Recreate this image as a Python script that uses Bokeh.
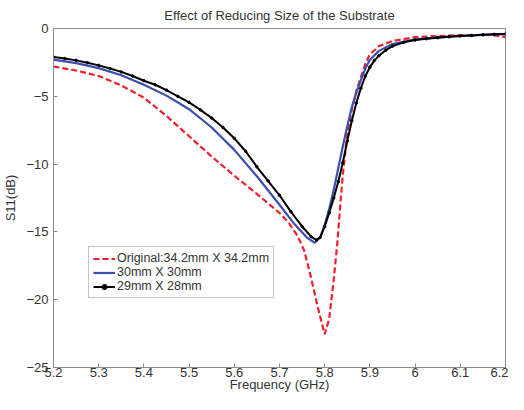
from bokeh.plotting import figure
from bokeh.models import Legend, LegendItem, FixedTicker, Range1d
from bokeh.embed import file_html
from bokeh.resources import INLINE

# ---- data ----
f_orig = [5.200, 5.250, 5.300, 5.350, 5.400, 5.450, 5.500, 5.550, 5.600, 5.650,
          5.700, 5.720, 5.740, 5.755, 5.770, 5.785, 5.800, 5.810, 5.820, 5.828,
          5.835, 5.840, 5.850, 5.860, 5.870, 5.880, 5.890, 5.900, 5.920, 5.950,
          6.000, 6.050, 6.100, 6.150, 6.180, 6.200]
s_orig = [-2.80, -3.10, -3.50, -4.20, -5.10, -6.45, -7.95, -9.45, -10.85, -12.20,
          -13.60, -14.30, -15.30, -16.40, -18.40, -20.60, -22.55, -21.40, -18.50, -15.80,
          -12.80, -10.80, -7.70, -6.00, -4.60, -3.60, -2.60, -1.90, -1.30, -0.92,
          -0.64, -0.55, -0.50, -0.47, -0.52, -0.64]

f_30 = [5.200, 5.250, 5.300, 5.350, 5.400, 5.450, 5.500, 5.550, 5.600, 5.650,
        5.700, 5.730, 5.760, 5.778, 5.790, 5.800, 5.810, 5.820, 5.830, 5.840,
        5.850, 5.860, 5.870, 5.880, 5.890, 5.900, 5.920, 5.950, 6.000, 6.050,
        6.100, 6.150, 6.200]
s_30 = [-2.30, -2.55, -2.92, -3.45, -4.15, -4.95, -5.95, -7.30, -8.95, -10.90,
        -13.00, -14.30, -15.40, -15.80, -15.40, -14.50, -13.30, -11.90, -10.30, -8.70,
        -7.20, -5.80, -4.75, -3.80, -2.95, -2.30, -1.65, -1.15, -0.80, -0.65,
        -0.55, -0.47, -0.41]

f_29 = [5.200, 5.225, 5.250, 5.275, 5.300, 5.325, 5.350, 5.375, 5.400, 5.425,
        5.450, 5.475, 5.500, 5.525, 5.550, 5.575, 5.600, 5.625, 5.650, 5.675,
        5.700, 5.725, 5.750, 5.770, 5.782, 5.790, 5.800, 5.810, 5.820, 5.830,
        5.840, 5.850, 5.860, 5.870, 5.880, 5.890, 5.900, 5.910, 5.920, 5.935,
        5.950, 5.975, 6.000, 6.025, 6.050, 6.075, 6.100, 6.125, 6.150, 6.175,
        6.200]
s_29 = [-2.10, -2.22, -2.35, -2.52, -2.72, -2.95, -3.20, -3.50, -3.85, -4.15,
        -4.55, -5.00, -5.45, -6.00, -6.60, -7.30, -8.10, -9.05, -10.20, -11.25,
        -12.30, -13.50, -14.60, -15.35, -15.60, -15.40, -14.60, -13.60, -12.50, -11.30,
        -9.90, -8.30, -6.80, -5.50, -4.40, -3.50, -2.85, -2.35, -2.00, -1.60,
        -1.30, -1.02, -0.85, -0.75, -0.68, -0.61, -0.55, -0.51, -0.47, -0.43,
        -0.40]

x_ticks = [5.2, 5.3, 5.4, 5.5, 5.6, 5.7, 5.8, 5.9, 6.0, 6.1, 6.2]
x_tick_labels = ["5.2", "5.3", "5.4", "5.5", "5.6", "5.7", "5.8", "5.9", "6", "6.1", "6.2"]
y_ticks = [-25, -20, -15, -10, -5, 0]

label_orig = "Original:34.2mm X 34.2mm"
label_30 = "30mm X 30mm"
label_29 = "29mm X 28mm"

FONT = "Liberation Sans"
AXC = "#8a8a8a"
TXT = "#333333"

p = figure(width=508, height=394, output_backend="svg", toolbar_location=None,
           x_range=Range1d(5.2, 6.2), y_range=Range1d(-25, 0),
           title="Effect of Reducing Size of the Substrate",
           min_border_left=41, min_border_right=3, min_border_top=0, min_border_bottom=0)

p.title.align = "center"
p.title.text_font = FONT
p.title.text_font_size = "13px"
p.title.text_font_style = "normal"
p.title.text_color = TXT
p.title.standoff = 11

p.grid.visible = False
p.outline_line_color = AXC
p.outline_line_width = 1
p.background_fill_color = "white"
p.border_fill_color = "white"

for ax in (p.xaxis[0], p.yaxis[0]):
    ax.axis_line_color = AXC
    ax.major_tick_line_color = AXC
    ax.major_tick_in = 4
    ax.major_tick_out = 0
    ax.minor_tick_line_color = None
    ax.major_label_text_font = FONT
    ax.major_label_text_font_size = "13px"
    ax.major_label_text_color = TXT
    ax.axis_label_text_font = FONT
    ax.axis_label_text_font_size = "13px"
    ax.axis_label_text_font_style = "normal"
    ax.axis_label_text_color = TXT

p.xaxis.ticker = FixedTicker(ticks=x_ticks)
p.xaxis.major_label_overrides = {t: l for t, l in zip(x_ticks, x_tick_labels)}
p.xaxis.axis_label = "Frequency (GHz)"
p.xaxis.major_label_standoff = 0
p.xaxis.axis_label_standoff = -3

p.yaxis.ticker = FixedTicker(ticks=y_ticks)
p.yaxis.axis_label = "S11(dB)"
p.yaxis.major_label_standoff = 5
p.yaxis.axis_label_standoff = 5

r_orig = p.line(f_orig, s_orig, line_color="#f0202a", line_width=2.2, line_dash="6 3")
r_30 = p.line(f_30, s_30, line_color="#3b4fb0", line_width=2.2)
r_29 = p.line(f_29, s_29, line_color="black", line_width=2)
r_29m = p.scatter(f_29, s_29, marker="circle", size=2.5, fill_color="black", line_color="black")

legend = Legend(items=[
    LegendItem(label=label_orig, renderers=[r_orig]),
    LegendItem(label=label_30, renderers=[r_30]),
    LegendItem(label=label_29, renderers=[r_29, r_29m]),
], location=(35, 69))
legend.label_text_font = FONT
legend.label_text_font_size = "12.5px"
legend.label_text_color = TXT
legend.label_standoff = 2
legend.glyph_width = 22
legend.glyph_height = 13
legend.label_height = 13
legend.spacing = 0
legend.padding = 4
legend.margin = 0
legend.border_line_color = AXC
legend.background_fill_alpha = 1
p.add_layout(legend, "center")

open("out.html", "w").write(file_html(p, INLINE))
